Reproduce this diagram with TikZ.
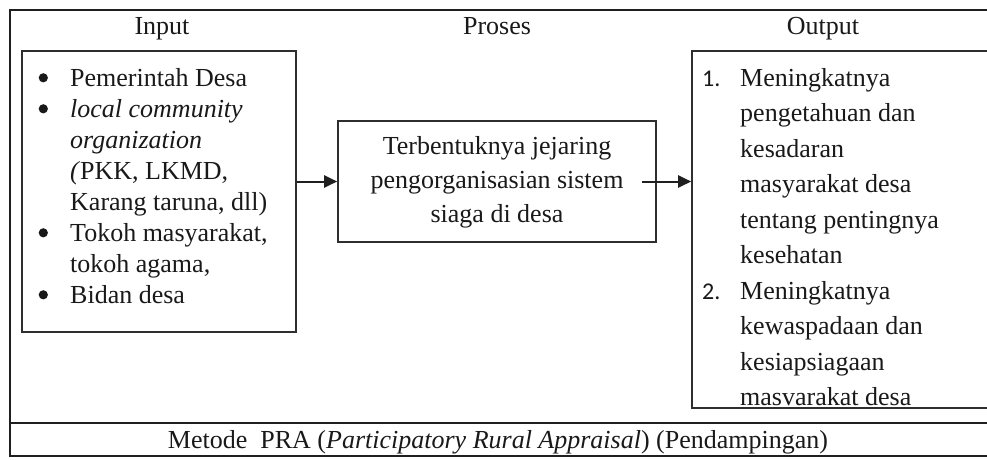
\documentclass[tikz,border=0pt]{standalone}
\usepackage{fontspec}
\setmainfont{Liberation Serif}
\newfontfamily\numfont{Carlito}
\usetikzlibrary{arrows.meta}
\newcommand{\bul}{\makebox[33pt][l]{\hspace{1.5pt}\raisebox{3.6pt}{\tikz\fill[black!90] (0,0) circle (4.6pt);}}}
\begin{document}
\begin{tikzpicture}[x=1pt,y=-1pt,
  frameline/.style={line width=2.2pt, draw=black!88},
  boxline/.style={draw=black!82, line width=1.6pt, inner sep=0pt},
  arr/.style={line width=2pt, draw=black!88, -{Triangle[length=13pt,width=12pt]}},
  txt/.style={inner sep=0pt, text=black!90, font=\fontsize{26}{31}\selectfont}]
\useasboundingbox (0,0) rectangle (987,459);
\clip (0,0) rectangle (987,459);
% outer frame (right side runs off the page)
\draw[frameline] (987,10) -- (10,10) -- (10,456) -- (987,456);
\draw[frameline] (10,423) -- (987,423);
% headings
\node[txt, anchor=base] (hin) at (162,34) {Input};
\node[txt, anchor=base] (hpro) at (497,34) {Proses};
\node[txt, anchor=base] (hout) at (823,34) {Output};
% boxes
\node[boxline, minimum width=274pt, minimum height=281pt] (inbox) at (159,191.5) {};
\node[boxline, minimum width=318pt, minimum height=121pt] (probox) at (497,181.5) {};
\node[boxline, minimum width=318pt, minimum height=357pt] (outbox) at (851,229.5) {};
% input text
\node[txt, anchor=base west] (intext) at (37,86) {\begin{tabular}[t]{@{}l@{}l@{}}
\bul & Pemerintah Desa\\
\bul & \textit{local community}\\
 & \textit{organization}\\
 & \textit{(}PKK, LKMD,\\
 & Karang taruna, dll)\\
\bul & Tokoh masyarakat,\\
 & tokoh agama,\\
\bul & Bidan desa
\end{tabular}};
% process text
\node[txt, anchor=base, align=center, font=\fontsize{26}{34}\selectfont] (protext) at (497,222) {Terbentuknya jejaring\\pengorganisasian sistem\\siaga di desa};
% output text
\node[txt, anchor=base west, font=\fontsize{26}{35.5}\selectfont] (outtext) at (702,86) {\begin{tabular}[t]{@{}l@{}l@{}}
\makebox[38pt][l]{\numfont\fontsize{24}{35.5}\selectfont 1.} & Meningkatnya\\
 & pengetahuan dan\\
 & kesadaran\\
 & masyarakat desa\\
 & tentang pentingnya\\
 & kesehatan\\
\makebox[38pt][l]{\numfont\fontsize{24}{35.5}\selectfont 2.} & Meningkatnya\\
 & kewaspadaan dan\\
 & kesiapsiagaan\\
 & masvarakat desa
\end{tabular}};
% footer
\node[txt, anchor=base] (foot) at (498,448) {Metode\ \ PRA (\textit{Participatory Rural Appraisal}) (Pendampingan)};
% connectors
\draw[arr] (inbox.east |- probox.west) -- (probox.west);
\coordinate (a2s) at (642,181.5);
\draw[arr] (a2s) -- (outbox.west |- a2s);
\end{tikzpicture}
\end{document}
